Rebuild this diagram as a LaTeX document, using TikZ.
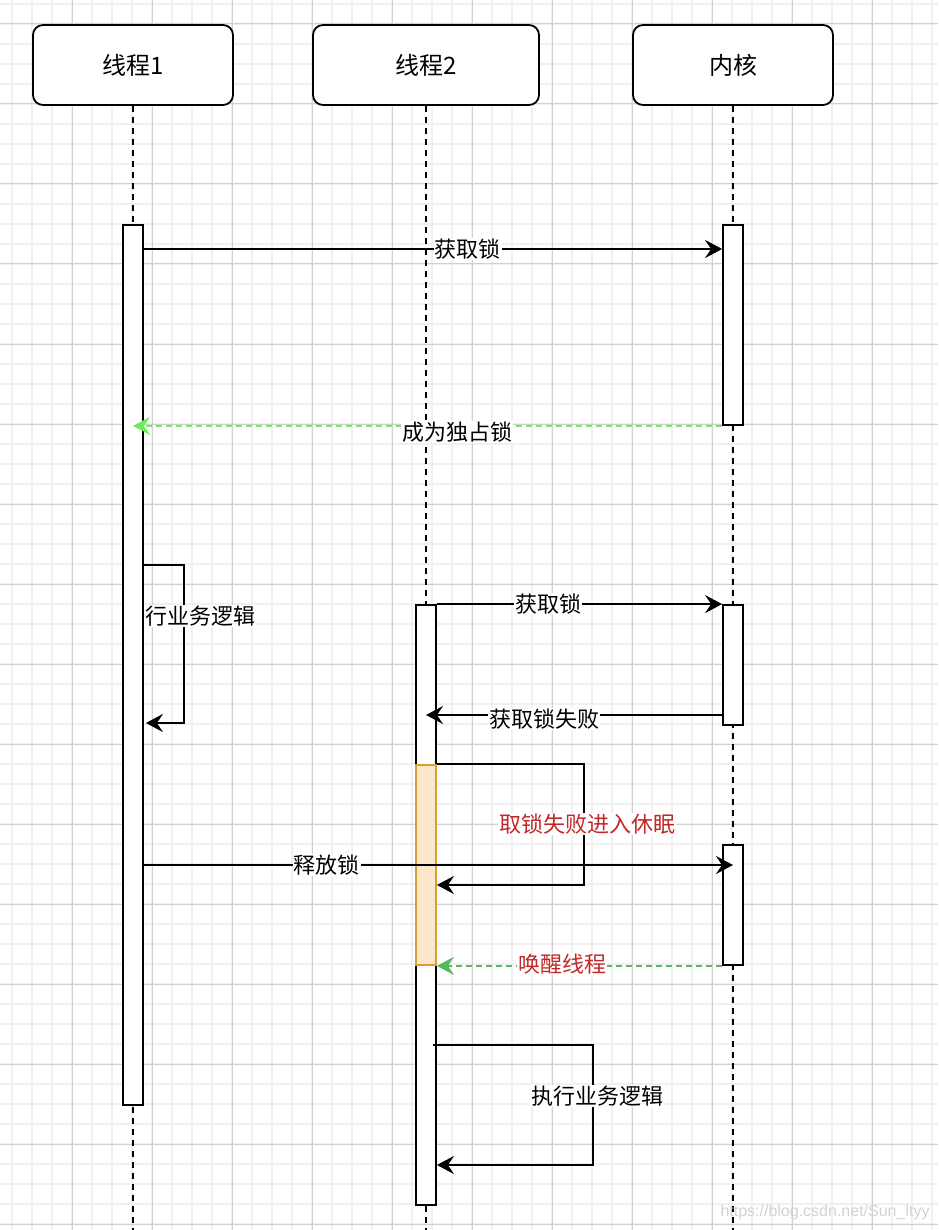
\documentclass[tikz,border=0pt]{standalone}
\usepackage{fontspec}
\setmainfont{Noto Sans CJK SC}
\newfontfamily\markfont{Liberation Sans}
\usetikzlibrary{arrows.meta}
\definecolor{gridminor}{RGB}{240,240,240}
\definecolor{gridmajor}{RGB}{208,208,208}
\definecolor{lightgreen}{RGB}{110,235,95}
\definecolor{wakegreen}{RGB}{85,185,95}
\definecolor{sleepfill}{RGB}{252,230,204}
\definecolor{sleepline}{RGB}{214,160,50}
\definecolor{labelred}{RGB}{195,40,40}
\begin{document}
\begin{tikzpicture}[x=1pt,y=-1pt,line width=1.8pt,
  >={Stealth[length=17pt,width=18pt,inset=6pt]},
  actor/.style={draw,rounded corners=10pt,fill=white,minimum width=200pt,minimum height=80pt,font=\fontsize{24}{28}\selectfont},
  life/.style={dash pattern=on 6pt off 5pt},
  bar/.style={draw,fill=white,minimum width=20pt,inner sep=0pt},
  msg/.style={->},
  reply/.style={->,dash pattern=on 6pt off 4pt},
  lbl/.style={fill=white,inner sep=1pt,font=\fontsize{22}{26}\selectfont}]
\useasboundingbox (0,0) rectangle (938,1230);
% grid
\foreach \x in {12,32,...,932} \draw[gridminor,line width=2pt] (\x,0) -- (\x,1230);
\foreach \y in {4,24,...,1224} \draw[gridminor,line width=2pt] (0,\y) -- (938,\y);
\foreach \x in {72,152,...,872} \draw[gridmajor,line width=1pt] (\x,0) -- (\x,1230);
\foreach \y in {24,104,...,1224} \draw[gridmajor,line width=1pt] (0,\y) -- (938,\y);
% actors
\node[actor] (t1) at (133,65) {线程1};
\node[actor,minimum width=226pt] (t2) at (426,65) {线程2};
\node[actor] (kern) at (733,65) {内核};
\coordinate (t1end) at (133,1230);
\coordinate (t2end) at (426,1230);
\coordinate (kend) at (733,1230);
\draw[life] (t1) -- (t1end);
\draw[life] (t2) -- (t2end);
\draw[life] (kern) -- (kend);
% activation bars
\node[bar,minimum height=880pt] (a1) at (133,665) {};
\node[bar,minimum height=200pt] (k1) at (733,325) {};
\node[bar,minimum height=120pt] (k2) at (733,665) {};
\node[bar,minimum height=120pt] (k3) at (733,905) {};
\node[bar,minimum height=600pt] (b1) at (426,905) {};
\node[bar,minimum height=200pt,fill=sleepfill,draw=sleepline] (sleep) at (426,865) {};
% message rows
\coordinate (m1) at (0,249);
\coordinate (s1a) at (0,565);
\coordinate (s1b) at (0,723);
\coordinate (m5) at (0,715);
\coordinate (s2b) at (0,885);
\coordinate (m7) at (0,865);
\coordinate (s3a) at (433,1045);
\coordinate (s3b) at (0,1165);
% messages
\draw[msg] (a1.east |- m1) -- node[lbl,pos=0.56] {获取锁} (k1.west |- m1);
\draw[reply,lightgreen] (k1.south west) -- node[lbl,pos=0.45,yshift=-6pt,text=black] {成为独占锁} (t1 |- k1.south);
\draw[msg] (a1.east |- s1a) -- ++(40,0) |- ([xshift=2pt]a1.east |- s1b);
\node[lbl] (biz1) at (200,616) {行业务逻辑};
\draw[msg] (b1.north east) -- node[lbl,pos=0.39] {获取锁} (k2.north west);
\draw[msg] (k2.west |- m5) -- node[lbl,pos=0.6,yshift=-4pt] {获取锁失败} (b1 |- m5);
\draw[msg] (sleep.north east) -- ++(147,0) |- (sleep.east |- s2b);
\node[lbl,text=labelred] (sleeplbl) at (587,824) {取锁失败进入休眠};
\draw[msg] (a1.east |- m7) -- node[lbl,pos=0.31] {释放锁} (k3 |- m7);
\draw[reply,wakegreen] (k3.south west) -- node[lbl,pos=0.56,yshift=2pt,text=labelred] {唤醒线程} (sleep.south east);
\draw[msg] (s3a) -- ++(160,0) |- (b1.east |- s3b);
\node[lbl] (biz2) at (597,1096) {执行业务逻辑};
% watermark
\node[text=gray!35,font=\markfont\fontsize{16}{19}\selectfont] (mark) at (825,1212) {https://blog.csdn.net/Sun\_ltyy};
\end{tikzpicture}
\end{document}
